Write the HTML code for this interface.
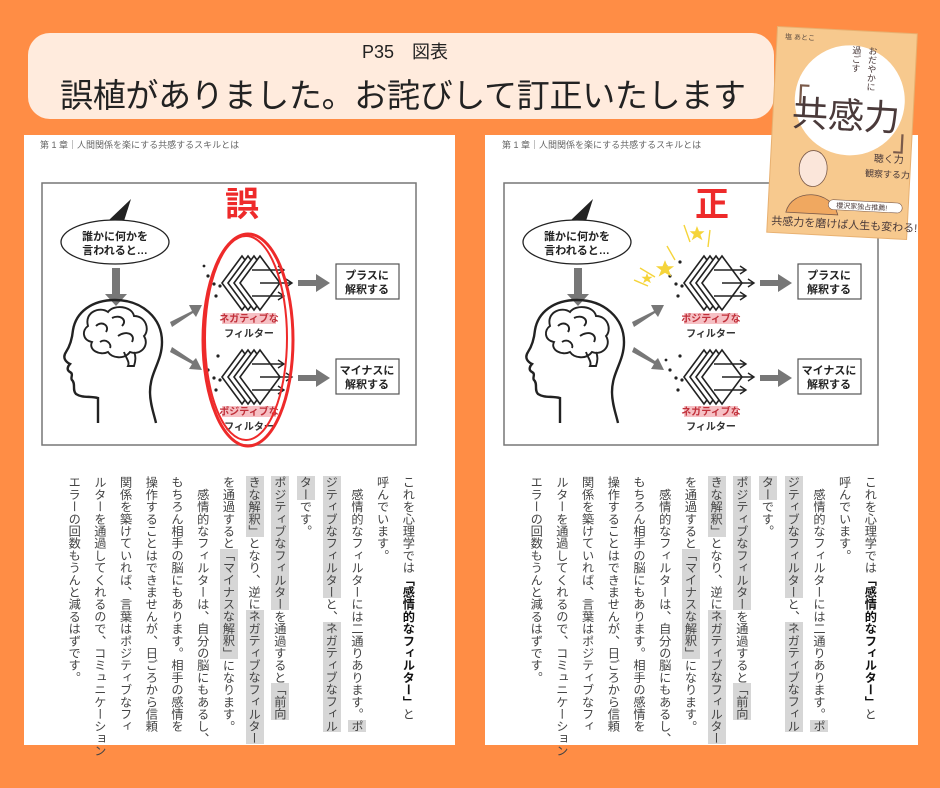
<!DOCTYPE html>
<html><head><meta charset="utf-8">
<style>
html,body{margin:0;padding:0;}
body{width:940px;height:788px;background:#FF8D45;position:relative;overflow:hidden;font-family:"Liberation Sans","Noto Sans CJK JP",sans-serif;}
.pill{position:absolute;left:28px;top:33px;width:746px;height:86px;background:#FFEBDD;border-radius:22px;}
.t1{position:absolute;left:0;width:810px;top:38px;text-align:center;font-size:18px;color:#222;}
.t2{position:absolute;left:60px;top:69px;font-size:33px;color:#222;white-space:nowrap;letter-spacing:-0.3px;}
.page{position:absolute;background:#fff;}
.vt{position:absolute;top:476px;writing-mode:vertical-rl;font-size:12.2px;line-height:25.7px;height:260px;color:#444;white-space:nowrap;font-family:"Noto Sans CJK JP",sans-serif;}
.vt b{font-weight:bold;color:#111}
.vt span{background:#d6d6d6;}
svg{position:absolute;left:0;top:0;}
</style></head><body>
<div class="pill"></div>
<div class="t1">P35　図表</div>
<div class="t2">誤植がありました。お詫びして訂正いたします</div>
<div class="page" style="left:24px;top:135px;width:431px;height:610px;"></div>
<div class="page" style="left:485px;top:135px;width:433px;height:610px;"></div>

<div class="vt" style="left:61px;">これを心理学では<b>「感情的なフィルター」</b>と<br>呼んでいます。<br>　感情的なフィルターには二通りあります。<span>ポ</span><br><span>ジティブなフィルター</span>と、<span>ネガティブなフィル</span><br><span>ター</span>です。<br><span>ポジティブなフィルター</span>を通過すると<span>「前向</span><br><span>きな解釈」</span>となり、逆に<span>ネガティブなフィルター</span><br>を通過すると<span>「マイナスな解釈」</span>になります。<br>　感情的なフィルターは、自分の脳にもあるし、<br>もちろん相手の脳にもあります。相手の感情を<br>操作することはできませんが、日ごろから信頼<br>関係を築けていれば、言葉はポジティブなフィ<br>ルターを通過してくれるので、コミュニケーション<br>エラーの回数もうんと減るはずです。</div>
<div class="vt" style="left:523px;">これを心理学では<b>「感情的なフィルター」</b>と<br>呼んでいます。<br>　感情的なフィルターには二通りあります。<span>ポ</span><br><span>ジティブなフィルター</span>と、<span>ネガティブなフィル</span><br><span>ター</span>です。<br><span>ポジティブなフィルター</span>を通過すると<span>「前向</span><br><span>きな解釈」</span>となり、逆に<span>ネガティブなフィルター</span><br>を通過すると<span>「マイナスな解釈」</span>になります。<br>　感情的なフィルターは、自分の脳にもあるし、<br>もちろん相手の脳にもあります。相手の感情を<br>操作することはできませんが、日ごろから信頼<br>関係を築けていれば、言葉はポジティブなフィ<br>ルターを通過してくれるので、コミュニケーション<br>エラーの回数もうんと減るはずです。</div>

<svg width="940" height="788" viewBox="0 0 940 788" font-family="Liberation Sans, Noto Sans CJK JP, sans-serif">
<defs>
<g id="filt" fill="#fff" stroke="#222" stroke-width="1.6">
  <polygon points="0,27 20,0 40,27 20,54"/>
  <polygon points="6,27 26,0 46,27 26,54"/>
  <polygon points="12,27 32,0 52,27 32,54"/>
  <polygon points="18,27 38,0 58,27 38,54"/>
  <g fill="none" stroke-width="1.4">
   <path d="M30,14 H62 M56,10 L62,14 L56,18"/>
   <path d="M38,27 H70 M64,23 L70,27 L64,31"/>
   <path d="M30,40 H62 M56,36 L62,40 L56,44"/>
  </g>
  <g fill="#222" stroke="none">
   <circle cx="-4" cy="6" r="1.6"/><circle cx="-14" cy="20" r="1.6"/><circle cx="-8" cy="28" r="1.6"/><circle cx="-2" cy="30" r="1.6"/><circle cx="-6" cy="40" r="1.6"/><circle cx="-18" cy="10" r="1.4"/>
  </g>
</g>
<g id="diag">
  <rect x="42" y="183" width="374" height="262" fill="#fff" stroke="#777" stroke-width="1.5"/>
  <polygon points="109,220 131,199 124,221" fill="#222"/>
  <ellipse cx="115" cy="242" rx="54" ry="22" fill="#fff" stroke="#222" stroke-width="1.3"/>
  <path d="M112,268 h8 v26 h7 l-11,12 l-11,-12 h7z" fill="#777"/>
  <path d="M98,423 L98,398 C90,396 82,398 76,394 C72,390 76,384 72,380 C70,378 74,374 70,372 C66,370 68,366 70,364 C66,362 62,358 66,352 C70,346 72,340 73,330 C76,312 92,300 115,300 C142,300 162,318 162,342 C162,362 150,372 150,392 C150,404 154,414 156,423" fill="none" stroke="#222" stroke-width="2.4"/>
  <g fill="none" stroke="#222" stroke-width="1.9">
   <path d="M88,326 C84,312 100,306 108,312 C114,304 132,306 134,316 C146,316 150,330 144,336 C150,346 140,356 130,352 C124,360 112,358 108,352 C100,356 88,350 92,342 C82,340 82,330 88,326z"/>
   <path d="M96,326 C102,320 110,326 106,332 M112,318 C120,314 128,320 122,326 M118,336 C126,330 136,334 132,342 M100,342 C106,338 112,344 110,348"/>
   <path d="M124,352 C126,358 130,362 128,366 L134,366 C136,360 136,356 134,352"/>
  </g>
  <path d="M170,322 L192,311 L189,305 L202,305 L196,317 L193,313 L172,327z" fill="#777"/>
  <path d="M170,352 L192,364 L189,369 L202,370 L196,358 L193,361 L172,347z" fill="#777"/>
  <use href="#filt" x="222" y="256"/>
  <use href="#filt" x="222" y="350"/>
  <path d="M298,280 h18 v-6 l14,9 l-14,9 v-6 h-18z" fill="#777"/>
  <path d="M298,375 h18 v-6 l14,9 l-14,9 v-6 h-18z" fill="#777"/>
  <rect x="336" y="264" width="63" height="35" fill="#fff" stroke="#555" stroke-width="1.2"/>
  <rect x="336" y="359" width="63" height="35" fill="#fff" stroke="#555" stroke-width="1.2"/>
  <g font-size="11" font-weight="bold" fill="#222" text-anchor="middle">
   <text x="115" y="240">誰かに何かを</text>
   <text x="115" y="254">言われると…</text>
   <text x="367" y="279">プラスに</text>
   <text x="367" y="293">解釈する</text>
   <text x="367" y="374">マイナスに</text>
   <text x="367" y="388">解釈する</text>
  </g>
  <g font-size="10" fill="#333" text-anchor="middle" font-weight="bold">
   <rect x="222" y="313" width="54" height="11" fill="#f6c0c4"/>
   <rect x="222" y="406" width="54" height="11" fill="#f6c0c4"/>
   <text x="249" y="337">フィルター</text>
   <text x="249" y="430">フィルター</text>
  </g>
  <text x="40" y="148" font-size="9" fill="#666">第 1 章｜人間関係を楽にする共感するスキルとは</text>
</g>
</defs>
<use href="#diag"/>
<use href="#diag" x="462"/>
<g font-size="10" fill="#c0303a" text-anchor="middle" font-weight="bold">
 <text x="249" y="322">ネガティブな</text>
 <text x="249" y="415">ポジティブな</text>
 <text x="711" y="322">ポジティブな</text>
 <text x="711" y="415">ネガティブな</text>
</g>
<text x="242" y="216" font-size="34" font-weight="bold" fill="#ee2a2a" text-anchor="middle">誤</text>
<text x="712" y="216" font-size="34" font-weight="bold" fill="#ee2a2a" text-anchor="middle">正</text>
<ellipse cx="248" cy="340" rx="45" ry="106" fill="none" stroke="#ee2a2a" stroke-width="3"/>
<ellipse cx="246" cy="338" rx="41" ry="102" fill="none" stroke="#ee2a2a" stroke-width="2"/>
<g fill="#f5d43a" stroke="#f5d43a" stroke-width="1.4">
 <path d="M665,262 l2,5 5,0 -4,3 2,5 -5,-3 -5,3 2,-5 -4,-3 5,0z"/>
 <path d="M697,228 l1.6,4 4,0 -3,2.5 1.5,4 -4,-2.5 -4,2.5 1.5,-4 -3,-2.5 4,0z"/>
 <path d="M647,275 l1,2.5 2.5,0 -2,1.5 1,2.5 -2.5,-1.5 -2.5,1.5 1,-2.5 -2,-1.5 2.5,0z"/>
 <line x1="634" y1="280" x2="648" y2="286"/><line x1="640" y1="268" x2="655" y2="277"/><line x1="667" y1="246" x2="675" y2="260"/><line x1="684" y1="225" x2="690" y2="242"/><line x1="710" y1="230" x2="708" y2="247"/>
</g>
<g transform="rotate(3 842 134)">
 <rect x="772" y="30" width="140" height="206" fill="#F7C98E" stroke="#e8b070" stroke-width="1"/>
 <circle cx="848" cy="100" r="55" fill="#fff"/>
 <text x="780" y="42" font-size="7" fill="#5a4a40">塩 あとこ</text>
 <text x="845" y="128" font-size="36" fill="#4a3a3a" text-anchor="middle" font-family="Noto Sans CJK JP, sans-serif">共感力</text>
 <text x="778" y="112" font-size="30" fill="#7a5a4a">「</text>
 <text x="893" y="148" font-size="30" fill="#7a5a4a">」</text>
 <text x="868" y="45" font-size="9" fill="#4a3a3a" style="writing-mode:vertical-rl">おだやかに</text>
 <text x="852" y="45" font-size="9" fill="#4a3a3a" style="writing-mode:vertical-rl">過ごす</text>
 <ellipse cx="815" cy="170" rx="14" ry="18" fill="#fbe6da" stroke="#7a5a4a" stroke-width="0.8"/>
 <path d="M790,215 C795,190 835,190 842,215z" fill="#f0a860" stroke="#7a5a4a" stroke-width="0.8"/>
 <text x="875" y="160" font-size="10" fill="#4a3a3a">聴く力</text>
 <text x="867" y="175" font-size="9" fill="#4a3a3a">観察する力</text>
 <rect x="832" y="200" width="74" height="10" rx="5" fill="#fff" stroke="#7a5a4a" stroke-width="0.6"/>
 <text x="840" y="208" font-size="7" fill="#4a3a3a">櫻沢家独占推薦!</text>
 <text x="776" y="228" font-size="11" fill="#4a3a3a">共感力を磨けば人生も変わる!</text>
</g>
</svg>
</body></html>
